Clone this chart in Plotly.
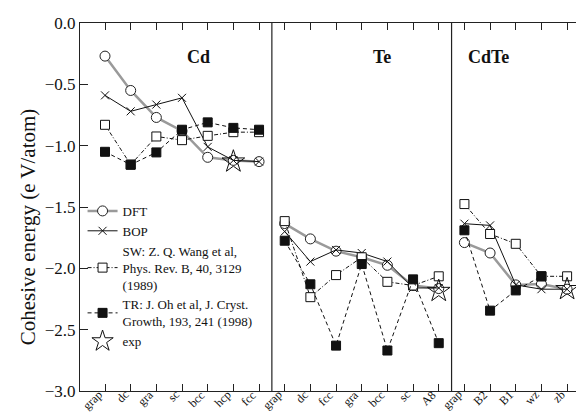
import plotly.graph_objects as go

# categories per panel
cd_cats = ["grap", "dc", "gra", "sc", "bcc", "hcp", "fcc"]
te_cats = ["grap", "dc", "fcc", "gra", "bcc", "sc", "A8"]
cdte_cats = ["grap", "B2", "B1", "wz", "zb"]

# Cd values (eV/atom)
cd_dft = [-0.27, -0.55, -0.77, -0.88, -1.095, -1.12, -1.13]
cd_bop = [-0.59, -0.72, -0.665, -0.61, -1.01, -1.12, -1.13]
cd_sw = [-0.83, -1.155, -0.925, -0.955, -0.92, -0.89, -0.89]
cd_tr = [-1.05, -1.155, -1.055, -0.87, -0.81, -0.855, -0.87]
cd_exp = [None, None, None, None, None, -1.13, None]

# Te values
te_dft = [-1.635, -1.76, -1.86, -1.91, -1.975, -2.14, -2.165]
te_bop = [-1.70, -1.945, -1.85, -1.875, -1.945, -2.16, -2.16]
te_sw = [-1.615, -2.235, -2.055, -1.91, -2.11, -2.14, -2.065]
te_tr = [-1.775, -2.13, -2.63, -1.965, -2.67, -2.09, -2.61]
te_exp = [None, None, None, None, None, None, -2.185]

# CdTe values
cdte_dft = [-1.79, -1.875, -2.135, -2.128, -2.17]
cdte_bop = [-1.636, -1.65, -2.135, -2.17, -2.17]
cdte_sw = [-1.476, -1.72, -1.80, -2.065, -2.065]
cdte_tr = [-1.69, -2.345, -2.18, -2.065, None]
cdte_exp = [None, None, None, None, -2.17]

panel_titles = ["Cd", "Te", "CdTe"]
y_title = "Cohesive energy (e V/atom)"

# positions along a single shared x axis
cd_x = list(range(len(cd_cats)))
te_x = [len(cd_cats) + i for i in range(len(te_cats))]
cdte_x = [len(cd_cats) + len(te_cats) + i for i in range(len(cdte_cats))]
sep1 = len(cd_cats) - 0.5
sep2 = len(cd_cats) + len(te_cats) - 0.5
all_x = cd_x + te_x + cdte_x
all_cats = cd_cats + te_cats + cdte_cats


def join(a, b, c):
    # None between panels so lines don't connect across panels
    return a + [None] + b + [None] + c


X = join(cd_x, te_x, cdte_x)
SERIF = "Liberation Serif"

fig = go.Figure()

fig.add_trace(go.Scatter(
    x=X, y=join(cd_dft, te_dft, cdte_dft), name="DFT", mode="lines+markers",
    line=dict(color="#9a9a9a", width=2.5),
    marker=dict(symbol="circle", size=10, color="white", line=dict(color="#222", width=1)),
))
fig.add_trace(go.Scatter(
    x=X, y=join(cd_bop, te_bop, cdte_bop), name="BOP", mode="lines+markers",
    line=dict(color="#111", width=1),
    marker=dict(symbol="x-thin", size=8, color="#111", line=dict(color="#111", width=1)),
))
fig.add_trace(go.Scatter(
    x=X, y=join(cd_sw, te_sw, cdte_sw),
    name="SW: Z. Q. Wang et al,<br>Phys. Rev. B, 40, 3129<br>(1989)", mode="lines+markers",
    line=dict(color="#111", width=1, dash="4px,2px,1px,2px"),
    marker=dict(symbol="square", size=9, color="white", line=dict(color="#111", width=1)),
))
fig.add_trace(go.Scatter(
    x=X, y=join(cd_tr, te_tr, cdte_tr),
    name="TR: J. Oh et al, J. Cryst.<br>Growth, 193, 241 (1998)", mode="lines+markers",
    line=dict(color="#111", width=1, dash="4px,3px"),
    marker=dict(symbol="square", size=9, color="#111", line=dict(color="#111", width=1)),
))
fig.add_trace(go.Scatter(
    x=X, y=join(cd_exp, te_exp, cdte_exp), name="exp", mode="markers",
    marker=dict(symbol="star-open", size=17, color="#111", line=dict(color="#111", width=1)),
))

# panel separators
for s in (sep1, sep2):
    fig.add_shape(type="line", x0=s, x1=s, y0=0, y1=1, xref="x", yref="paper",
                  line=dict(color="#222", width=1.2))

# panel titles
title_x = [3.66, 10.79, 14.92]
for t, tx in zip(panel_titles, title_x):
    fig.add_annotation(x=tx, y=-0.28, text="<b>%s</b>" % t, showarrow=False,
                       font=dict(family=SERIF, size=18, color="#111"))

# rotated category labels, upper-right end at each tick
for xv, lab in zip(all_x, all_cats):
    fig.add_annotation(x=xv, y=0, xref="x", yref="paper", text=lab, showarrow=False,
                       textangle=-45, xanchor="right", yanchor="top", xshift=3, yshift=6,
                       font=dict(family=SERIF, size=12, color="#111"))

# y axis title
fig.add_annotation(x=0, y=0.445, xref="paper", yref="paper", text=y_title, showarrow=False,
                   textangle=-90, xanchor="center", yanchor="middle", xshift=-52,
                   font=dict(family=SERIF, size=21, color="#111"))

fig.update_xaxes(
    range=[-0.974, 18.97], tickmode="array", tickvals=all_x, showticklabels=False,
    ticks="inside", ticklen=7, tickcolor="#222", mirror="ticks",
    showline=True, linecolor="#222", linewidth=1.2, showgrid=False, zeroline=False,
)
fig.update_yaxes(
    range=[-3, 0], dtick=0.5, tickformat=".1f",
    ticks="inside", ticklen=8, tickcolor="#222", mirror="ticks",
    showline=True, linecolor="#222", linewidth=1.2, showgrid=False, zeroline=False,
    tickfont=dict(family=SERIF, size=17, color="#111"), automargin=False,
)

fig.update_layout(
    width=584, height=413,
    margin=dict(l=72, r=0, t=15, b=30),
    plot_bgcolor="white", paper_bgcolor="white",
    legend=dict(x=0.005, y=0.53, xanchor="left", yanchor="top",
                bgcolor="rgba(0,0,0,0)", font=dict(family=SERIF, size=13, color="#111"),
                tracegroupgap=0, itemwidth=30),
    showlegend=True,
)

fig.write_html("out.html")
